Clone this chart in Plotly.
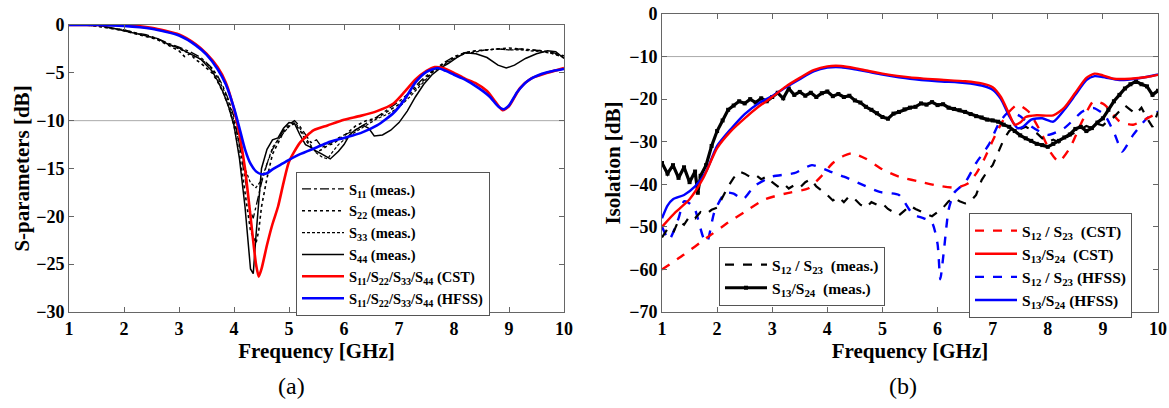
import plotly.graph_objects as go

# ---------------- (a) S-parameters ----------------
f_cst_a = [1.0, 1.5, 2.0, 2.5, 3.0, 3.3, 3.5, 3.7, 3.85, 4.0, 4.1, 4.2, 4.3, 4.4, 4.45, 4.5, 4.6, 4.7, 4.8, 4.9,
           5.0, 5.2, 5.45, 5.7, 6.0, 6.3, 6.6, 6.9, 7.1, 7.3, 7.5, 7.65, 7.8, 8.0, 8.2, 8.4, 8.6, 8.75, 8.88, 9.0,
           9.2, 9.4, 9.7, 10.0]
s_cst_a = [0, 0, 0, -0.3, -1.0, -2.0, -3.0, -4.4, -6.0, -8.8, -11.5, -15, -20, -25, -26.3, -25.5, -23.0, -20.8, -19, -16.5,
           -14.3, -12.3, -11.0, -10.5, -9.9, -9.5, -9.0, -8.2, -7.0, -5.7, -4.8, -4.4, -4.5, -5.0, -5.6, -6.1, -6.9, -8.0, -8.9, -8.5,
           -6.6, -5.6, -5.0, -4.5]

f_hfss_a = [1.0, 1.5, 2.0, 2.5, 3.0, 3.3, 3.5, 3.7, 3.85, 4.0, 4.1, 4.2, 4.3, 4.4, 4.5, 4.6, 4.7, 4.85, 5.0, 5.2,
            5.5, 5.7, 6.0, 6.3, 6.6, 6.9, 7.1, 7.3, 7.5, 7.7, 7.85, 8.0, 8.2, 8.45, 8.65, 8.8, 8.9, 9.0, 9.15, 9.35,
            9.6, 9.8, 10.0]
s_hfss_a = [0, 0, -0.1, -0.4, -1.1, -2.1, -3.1, -4.6, -6.2, -8.7, -10.8, -13, -14.5, -15.3, -15.6, -15.5, -15.1, -14.6, -14.1, -13.5,
            -12.8, -12.3, -11.8, -11.3, -10.5, -9.2, -7.8, -6.0, -4.9, -4.5, -4.8, -5.2, -5.7, -6.6, -7.5, -8.5, -8.8, -8.4, -7.0, -5.8,
            -5.1, -4.8, -4.6]

f_s11 = [1.0, 1.3, 1.5, 1.8, 2.0, 2.2, 2.4, 2.6, 2.8, 3.0, 3.2, 3.4, 3.5, 3.6, 3.7, 3.8, 3.9, 4.0, 4.1, 4.2,
         4.3, 4.35, 4.4, 4.5, 4.6, 4.7, 4.8, 4.9, 5.0, 5.1, 5.2, 5.3, 5.4, 5.5, 5.6, 5.7, 5.8, 5.9, 6.0, 6.2,
         6.4, 6.6, 6.8, 7.0, 7.2, 7.4, 7.6, 7.8, 8.0, 8.2, 8.4, 8.6, 8.8, 9.0, 9.2, 9.4, 9.6, 9.8, 10.0]
s11_meas = [0, 0, -0.1, -0.3, -0.5, -0.8, -1.0, -1.4, -1.9, -2.3, -2.8, -3.4, -3.9, -4.5, -5.3, -6.4, -7.8, -9.6, -12.5, -16,
            -19.5, -20.2, -19.0, -16.5, -14.5, -13.0, -12.0, -11.0, -10.4, -10.0, -10.6, -11.5, -12.3, -12.0, -12.8, -12.5, -12.2, -11.8, -11.5, -11.0,
            -10.3, -9.6, -8.8, -8.0, -7.0, -5.8, -4.8, -4.0, -3.3, -2.9, -2.7, -2.6, -2.5, -2.6, -2.5, -2.6, -2.7, -2.9, -3.2]

f_s22 = [1.0, 1.3, 1.5, 1.8, 2.0, 2.2, 2.4, 2.6, 2.8, 3.0, 3.1, 3.2, 3.3, 3.4, 3.5, 3.6, 3.7, 3.8, 3.9, 4.0,
         4.1, 4.2, 4.3, 4.4, 4.45, 4.5, 4.6, 4.7, 4.8, 4.9, 5.0, 5.1, 5.2, 5.3, 5.4, 5.5, 5.6, 5.7, 5.8, 5.9,
         6.0, 6.2, 6.4, 6.6, 6.8, 7.0, 7.2, 7.4, 7.6, 7.8, 8.0, 8.2, 8.4, 8.6, 8.8, 9.0, 9.2, 9.4, 9.6, 9.8, 10.0]
s22_meas = [0, 0, -0.1, -0.4, -0.6, -0.9, -1.2, -1.5, -2.1, -2.7, -3.3, -3.0, -3.6, -4.0, -4.5, -5.0, -5.9, -7.0, -8.5, -10.5,
            -13.5, -17.5, -21.5, -22.8, -21.5, -19, -16, -13.5, -12.3, -11.2, -10.6, -10.3, -11.0, -12.0, -12.8, -13.3, -13.0, -12.6, -12.4, -12.0,
            -11.6, -10.6, -10.0, -9.7, -9.0, -8.3, -7.2, -6.0, -4.9, -4.1, -3.4, -2.9, -2.7, -2.6, -2.5, -2.4, -2.5, -2.6, -2.7, -3.0, -3.4]

f_s33 = [1.0, 1.3, 1.5, 1.8, 2.0, 2.2, 2.4, 2.6, 2.8, 3.0, 3.2, 3.4, 3.5, 3.6, 3.7, 3.8, 3.9, 4.0, 4.1, 4.2,
         4.3, 4.4, 4.5, 4.6, 4.7, 4.8, 4.9, 5.0, 5.1, 5.2, 5.3, 5.4, 5.5, 5.6, 5.7, 5.8, 5.9, 6.0, 6.2, 6.4,
         6.6, 6.8, 7.0, 7.2, 7.4, 7.6, 7.8, 8.0, 8.2, 8.4, 8.6, 8.8, 9.0, 9.2, 9.4, 9.6, 9.8, 10.0]
s33_meas = [0, 0, -0.1, -0.3, -0.5, -0.8, -1.1, -1.5, -2.0, -2.5, -3.0, -3.6, -4.0, -4.6, -5.5, -6.6, -8.0, -10.0, -12.5, -15,
            -16.5, -17.0, -16.2, -14.5, -12.8, -12.0, -11.3, -10.6, -10.2, -10.8, -11.8, -12.6, -13.4, -13.8, -14.0, -13.2, -12.5, -12.0, -11.2, -10.5,
            -9.8, -9.3, -8.6, -7.5, -6.3, -5.0, -4.2, -3.5, -3.0, -2.8, -2.6, -2.5, -2.6, -2.6, -2.7, -2.8, -3.0, -3.3]

f_s44 = [1.0, 1.3, 1.5, 1.7, 2.0, 2.2, 2.4, 2.6, 2.8, 3.0, 3.1, 3.2, 3.3, 3.4, 3.5, 3.6, 3.7, 3.8, 3.9, 4.0,
         4.1, 4.2, 4.3, 4.35, 4.4, 4.45, 4.5, 4.6, 4.7, 4.8, 4.9, 5.0, 5.1, 5.2, 5.3, 5.4, 5.5, 5.6, 5.75, 5.9,
         6.0, 6.1, 6.2, 6.35, 6.45, 6.55, 6.7, 6.85, 7.0, 7.15, 7.3, 7.45, 7.6, 7.75, 7.9, 8.05, 8.2, 8.4, 8.6, 8.8,
         8.95, 9.1, 9.3, 9.5, 9.7, 9.85, 10.0]
s44_meas = [0, 0, 0, -0.2, -0.6, -0.9, -1.1, -1.4, -2.0, -2.4, -2.7, -3.0, -3.3, -3.6, -4.2, -4.8, -5.8, -7.0, -8.5, -10.5,
            -14, -19, -25.5, -26.0, -22, -18, -15, -13, -12, -11.8, -10.8, -10.2, -10.3, -11.5, -12.5, -12.8, -13.2, -13.5, -14.0, -13.2,
            -12.5, -11.5, -11.0, -10.5, -10.8, -11.6, -11.5, -11.0, -10.2, -9.0, -7.5, -6.2, -5.2, -4.5, -4.0, -3.4, -2.9, -3.0, -3.4, -4.2,
            -4.5, -4.2, -3.5, -3.0, -2.7, -2.8, -3.5]

# ---------------- (b) Isolation ----------------
f_s13_cst = [1.0, 1.25, 1.5, 1.75, 2.0, 2.25, 2.5, 2.75, 3.0, 3.25, 3.5, 3.75, 4.0, 4.25, 4.5, 4.75, 5.0, 5.5, 6.0, 6.5,
             6.8, 7.0, 7.15, 7.3, 7.4, 7.5, 7.6, 7.8, 8.1, 8.3, 8.5, 8.7, 8.85, 9.0, 9.2, 9.5, 9.8, 10.0]
s13_cst = [-50, -46.5, -43.5, -38.5, -31.5, -27.5, -24.5, -21.8, -19.5, -17, -15, -13.2, -12.3, -12.2, -12.7, -13.4, -14.0, -14.9, -15.4, -15.8,
           -16.3, -17.2, -19.5, -23.5, -26, -25.5, -24.2, -23.8, -23.8, -22, -18.5, -15, -14, -14.4, -15.2, -15.2, -14.8, -14.3]

f_s13_hfss = [1.0, 1.1, 1.2, 1.4, 1.6, 1.8, 2.0, 2.25, 2.5, 2.75, 3.0, 3.25, 3.5, 3.75, 4.0, 4.25, 4.5, 4.75, 5.0, 5.5,
              6.0, 6.5, 6.8, 7.0, 7.15, 7.3, 7.45, 7.55, 7.7, 7.9, 8.1, 8.3, 8.5, 8.7, 8.85, 9.0, 9.3, 9.6, 10.0]
s13_hfss = [-48, -45, -43.5, -42.5, -40.5, -37, -31, -27, -23.5, -21, -19.3, -17.2, -15.3, -13.5, -12.6, -12.5, -13.0, -13.6, -14.2, -15.2,
            -15.8, -16.2, -16.8, -17.8, -20, -24, -26.8, -26.5, -24.8, -24.5, -25.3, -22.5, -19, -15.5, -14.6, -14.8, -15.5, -15.2, -14.2]

f_s12_cst = [1.0, 1.4, 1.8, 2.2, 2.5, 2.87, 3.3, 3.65, 3.9, 4.1, 4.3, 4.45, 4.7, 5.0, 5.3, 5.75, 6.0, 6.34, 6.55, 6.7,
             6.85, 7.05, 7.25, 7.45, 7.65, 7.9, 8.05, 8.2, 8.4, 8.63, 8.83, 9.03, 9.3, 9.55, 9.8, 10.0]
s12_cst = [-60, -56.5, -52.7, -49, -46.5, -43.5, -42, -41, -38, -35, -33.3, -32.7, -34, -36.5, -38.2, -39.6, -40.3, -40.8, -39.8, -37.5,
           -34, -28.4, -23.7, -21.3, -22.9, -28.4, -32.5, -34.7, -31.5, -25, -20.5, -21.3, -25.2, -26, -24.5, -23.3]

f_s12_hfss = [1.0, 1.13, 1.3, 1.4, 1.5, 1.6, 1.75, 1.82, 1.95, 2.15, 2.3, 2.47, 2.67, 3.0, 3.4, 3.72, 4.05, 4.3, 4.55, 4.95,
              5.3, 5.55, 5.75, 5.9, 6.0, 6.05, 6.12, 6.2, 6.3, 6.5, 6.7, 6.93, 7.13, 7.3, 7.5, 7.7, 8.0, 8.3, 8.63, 8.83,
              9.03, 9.22, 9.35, 9.55, 9.8, 10.0]
s12_hfss = [-50, -53, -48, -44, -44.5, -46, -52.5, -53.5, -46.5, -42, -42.2, -43.5, -40.5, -38.2, -37.4, -35.5, -37.0, -38.2, -39.6, -41.8,
            -42.5, -47.0, -48.0, -49, -54, -62.3, -55, -46, -42.0, -39.6, -35, -30.7, -25.3, -23, -24, -26.4, -28.4, -26.8, -22.9, -22.1,
            -23.7, -28.4, -32.3, -28.4, -24.5, -22.9]

f_meas_b = [1.0, 1.1, 1.2, 1.3, 1.4, 1.5, 1.6, 1.65, 1.7, 1.8, 1.9, 2.0, 2.1, 2.2, 2.3, 2.4, 2.5, 2.6, 2.7, 2.8,
            2.9, 3.0, 3.1, 3.2, 3.3, 3.4, 3.5, 3.6, 3.7, 3.8, 3.9, 4.0, 4.1, 4.2, 4.3, 4.4, 4.5, 4.6, 4.7, 4.8,
            4.9, 5.0, 5.1, 5.2, 5.3, 5.4, 5.5, 5.6, 5.7, 5.8, 5.9, 6.0, 6.1, 6.2, 6.3, 6.4, 6.5, 6.6, 6.7, 6.8,
            6.9, 7.0, 7.1, 7.2, 7.3, 7.4, 7.5, 7.6, 7.7, 7.8, 7.9, 8.0, 8.1, 8.2, 8.3, 8.4, 8.5, 8.6, 8.7, 8.8,
            8.9, 9.0, 9.1, 9.2, 9.3, 9.4, 9.5, 9.6, 9.7, 9.8, 9.9, 10.0]
s13_meas = [-35, -37.5, -35.5, -38.5, -36, -39.5, -37, -42, -38, -35.5, -31, -27.5, -25, -22.5, -21.5, -20.5, -21, -20, -20.8, -19.8,
            -20.5, -19.5, -18.5, -19.8, -17.5, -19, -18.3, -19.2, -18.5, -19.5, -18.6, -18.2, -19.3, -18.8, -19.5, -19.2, -20.3, -20.8, -21.8, -22.5,
            -23.3, -24.2, -24.6, -23.4, -23.0, -22.4, -22.0, -21.8, -21.0, -21.3, -20.7, -21.4, -21.2, -22.0, -22.3, -22.6, -23.0, -23.5, -24.0, -24.3,
            -24.8, -25.0, -25.3, -26.0, -26.5, -27.5, -28.5, -29.2, -29.8, -30.5, -30.8, -31.2, -30.5, -29.8, -29.0, -28.3, -27.0, -26.5, -27.5, -26.8,
            -25.5, -24.5, -22.5, -20.5, -19.0, -17.5, -16.5, -15.8, -16.5, -17.0, -19.0, -18.0]

f_meas_b12 = [1.0, 1.1, 1.2, 1.3, 1.4, 1.5, 1.6, 1.7, 1.8, 1.9, 2.0, 2.1, 2.2, 2.3, 2.4, 2.5, 2.6, 2.7, 2.8, 2.9,
              3.0, 3.1, 3.2, 3.3, 3.4, 3.5, 3.6, 3.7, 3.8, 3.9, 4.0, 4.1, 4.2, 4.3, 4.4, 4.5, 4.6, 4.7, 4.8, 4.9,
              5.0, 5.1, 5.2, 5.3, 5.4, 5.5, 5.6, 5.7, 5.8, 5.9, 6.0, 6.1, 6.2, 6.3, 6.4, 6.5, 6.6, 6.7, 6.8, 6.9,
              7.0, 7.1, 7.2, 7.3, 7.4, 7.5, 7.6, 7.7, 7.8, 7.9, 8.0, 8.1, 8.2, 8.3, 8.4, 8.5, 8.6, 8.7, 8.8, 8.9,
              9.0, 9.1, 9.2, 9.3, 9.4, 9.5, 9.6, 9.7, 9.8, 9.9, 10.0]
s12_meas = [-52.5, -50.5, -51.5, -48.5, -49.5, -47.5, -48, -46.5, -47, -46, -45.5, -43, -40.5, -38.5, -37, -37.5, -38.3, -37.8, -38.8, -38.2,
            -39.5, -40.5, -39.8, -41, -40.2, -40.8, -39.5, -38.8, -40.5, -41.5, -42.5, -43.8, -43, -44.2, -42.8, -43.5, -44.8, -45.5, -44.2, -44.8,
            -44.5, -45.8, -46.5, -47.3, -46.2, -45, -45.8, -46.5, -47, -47.5, -46.5, -45.5, -44, -43.2, -44, -44.5, -44, -42.5, -39, -37,
            -35.5, -32.5, -29.5, -27.5, -26.5, -27, -26.5, -27.2, -28, -29.2, -30, -29.5, -30.2, -29.3, -28.5, -27.8, -27, -26.3, -26.8, -25.8,
            -26.2, -25, -24.2, -22.8, -21.5, -22.5, -23.5, -22, -24.5, -26.5, -23]

REF_LEVEL = -10
xticks = [1, 2, 3, 4, 5, 6, 7, 8, 9, 10]

SERIF = "Liberation Serif, Times New Roman, DejaVu Serif, serif"
W, H = 1169, 408

fig = go.Figure()


def add(x, y, name, color, width, dash, xa, ya, legend, rank, shape="linear", mode="lines", marker=None):
    fig.add_trace(go.Scatter(x=x, y=y, name=name, mode=mode, xaxis=xa, yaxis=ya, legend=legend,
                             legendrank=rank,
                             line=dict(color=color, width=width, dash=dash, shape=shape,
                                       smoothing=0.6 if shape == "spline" else None),
                             marker=marker))


# (a)
add(f_s11, s11_meas, "<b>S<sub>11</sub> (meas.)</b>", "black", 1.3, "dashdot", "x", "y", "legend", 1)
add(f_s22, s22_meas, "<b>S<sub>22</sub> (meas.)</b>", "black", 1.6, "dot", "x", "y", "legend", 2)
add(f_s33, s33_meas, "<b>S<sub>33</sub> (meas.)</b>", "black", 1.2, "3px,2px", "x", "y", "legend", 3)
add(f_s44, s44_meas, "<b>S<sub>44</sub> (meas.)</b>", "black", 1.5, "solid", "x", "y", "legend", 4)
add(f_cst_a, s_cst_a, "<b>S<sub>11</sub>/S<sub>22</sub>/S<sub>33</sub>/S<sub>44</sub> (CST)</b>", "#ff0000", 2.6, "solid",
    "x", "y", "legend", 5, "spline")
add(f_hfss_a, s_hfss_a, "<b>S<sub>11</sub>/S<sub>22</sub>/S<sub>33</sub>/S<sub>44</sub> (HFSS)</b>", "#0000ff", 2.6, "solid",
    "x", "y", "legend", 6, "spline")

# (b)
add(f_s12_hfss, s12_hfss, "<b>S<sub>12</sub> / S<sub>23</sub> (HFSS)</b>", "#0000ff", 2.4, "dash", "x2", "y2", "legend2", 3, "spline")
add(f_s12_cst, s12_cst, "<b>S<sub>12</sub> / S<sub>23</sub>  (CST)</b>", "#ff0000", 2.4, "dash", "x2", "y2", "legend2", 1, "spline")
add(f_meas_b12, s12_meas, "<b>S<sub>12</sub> / S<sub>23</sub>  (meas.)</b>", "black", 2.2, "dash", "x2", "y2", "legend3", 1)
add(f_meas_b, s13_meas, "<b>S<sub>13</sub>/S<sub>24</sub>  (meas.)</b>", "black", 3.2, "solid", "x2", "y2", "legend3", 2,
    mode="lines+markers", marker=dict(symbol="square", size=4, color="black"))
add(f_s13_hfss, s13_hfss, "<b>S<sub>13</sub>/S<sub>24</sub> (HFSS)</b>", "#0000ff", 2.4, "solid", "x2", "y2", "legend2", 4, "spline")
add(f_s13_cst, s13_cst, "<b>S<sub>13</sub>/S<sub>24</sub>  (CST)</b>", "#ff0000", 2.4, "solid", "x2", "y2", "legend2", 2, "spline")

tickfont = dict(family=SERIF, size=18, color="black", weight="bold")
titlefont = dict(family=SERIF, size=21, color="black", weight="bold")
axis_common = dict(showline=True, linecolor="#666", linewidth=1, mirror="ticks", ticks="inside",
                   ticklen=5, tickcolor="#666", showgrid=False, zeroline=False, tickfont=tickfont,
                   automargin=False)
legfont_a = dict(family=SERIF, size=14.5, color="black")
legfont_b = dict(family=SERIF, size=15.5, color="black")
leg_common = dict(xanchor="left", yanchor="top", bgcolor="white", bordercolor="#555", borderwidth=1,
                  itemwidth=42, tracegroupgap=0)

fig.update_layout(
    width=W, height=H, margin=dict(l=0, r=0, t=0, b=0, autoexpand=False),
    paper_bgcolor="white", plot_bgcolor="white",
    font=dict(family=SERIF),
    xaxis=dict(domain=[69 / W, 564 / W], range=[1, 10], tickvals=xticks, anchor="y",
               title=dict(text="Frequency [GHz]", font=titlefont, standoff=2), **axis_common),
    yaxis=dict(domain=[1 - 312 / H, 1 - 25 / H], range=[-30, 0], dtick=5, anchor="x",
               title=dict(text="S-parameters [dB]", font=titlefont, standoff=0), **axis_common),
    xaxis2=dict(domain=[662 / W, 1158 / W], range=[1, 10], tickvals=xticks, anchor="y2",
                title=dict(text="Frequency [GHz]", font=titlefont, standoff=2), **axis_common),
    yaxis2=dict(domain=[1 - 312 / H, 1 - 14 / H], range=[-70, 0], dtick=10, anchor="x2",
                title=dict(text="Isolation [dB]", font=titlefont, standoff=2), **axis_common),
    legend=dict(x=296 / W, y=1 - 172 / H, font=legfont_a, **leg_common),
    legend2=dict(x=969 / W, y=1 - 213 / H, font=legfont_b, **leg_common),
    legend3=dict(x=719 / W, y=1 - 247 / H, font=legfont_b, **leg_common),
    showlegend=True,
)

for xr, yr in (("x", "y"), ("x2", "y2")):
    fig.add_shape(type="line", xref=f"{xr} domain", yref=yr, x0=0, x1=1, y0=REF_LEVEL, y1=REF_LEVEL,
                  line=dict(color="#aaa", width=1), layer="below")

for label, xp in (("(a)", 291), ("(b)", 903)):
    fig.add_annotation(text=label, x=xp / W, y=1 - 386 / H, xref="paper", yref="paper", showarrow=False,
                       xanchor="center", yanchor="middle", font=dict(family=SERIF, size=24, color="black"))

fig.write_html("out.html", config={"displayModeBar": False},
               post_script="document.body.style.margin='0';document.body.style.overflow='hidden';")
